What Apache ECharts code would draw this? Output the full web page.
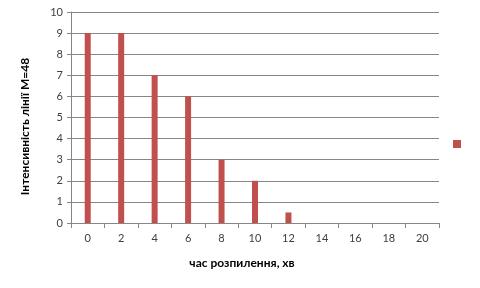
<!DOCTYPE html>
<html><head><meta charset="utf-8">
<script src="https://cdn.jsdelivr.net/npm/echarts@6/dist/echarts.min.js"></script>
<style>html,body{margin:0;padding:0;background:#fff}#c{width:480px;height:288px}</style>
</head><body><div id="c"></div>
<script>
const categories = ['0','2','4','6','8','10','12','14','16','18','20'];
const values = [9, 9, 7, 6, 3, 2, 0.5, null, null, null, null];
const yTicks = [0,1,2,3,4,5,6,7,8,9,10];
const seriesName = ' ';
const xName = 'час розпилення, хв';
const yName = 'Інтенсивність лінії М=48';

const chart = echarts.init(document.getElementById('c'));
chart.setOption({
  animation: false,
  textStyle: {fontFamily: 'Lato, "Open Sans", sans-serif'},
  grid: {left: 71, right: 41, top: 12, bottom: 65, containLabel: false},
  legend: {
    data: [{name: seriesName, icon: 'rect'}],
    left: 453, top: 140, padding: 0, itemWidth: 8, itemHeight: 8, itemGap: 0,
    textStyle: {fontSize: 1}, selectedMode: false
  },
  xAxis: {
    type: 'category', data: categories, boundaryGap: true,
    name: xName, nameLocation: 'middle', nameGap: 34,
    nameTextStyle: {fontSize: 12, fontWeight: 'bold', color: '#000', padding: [0, 26, 0, 0]},
    axisLine: {lineStyle: {color: '#868686', width: 1}},
    axisTick: {show: true, alignWithLabel: false, length: 5, lineStyle: {color: '#868686'}},
    axisLabel: {color: '#404040', fontSize: 11, margin: 10}
  },
  yAxis: {
    type: 'value', min: 0, max: 10, interval: 1,
    name: yName, nameLocation: 'middle', nameGap: 40, nameRotate: 90,
    nameTextStyle: {fontSize: 12, fontWeight: 'bold', color: '#000', padding: [0, 0, 0, -18]},
    axisLine: {show: true, lineStyle: {color: '#868686', width: 1}},
    axisTick: {show: true, length: 4, lineStyle: {color: '#868686'}},
    axisLabel: {color: '#404040', fontSize: 11, margin: 8,
      formatter: v => yTicks.includes(v) ? String(v) : ''},
    splitLine: {lineStyle: {color: '#868686', width: 1}}
  },
  series: [{
    name: seriesName, type: 'bar', data: values, barWidth: 6,
    itemStyle: {color: '#C0504D'}
  }]
});
</script></body></html>
